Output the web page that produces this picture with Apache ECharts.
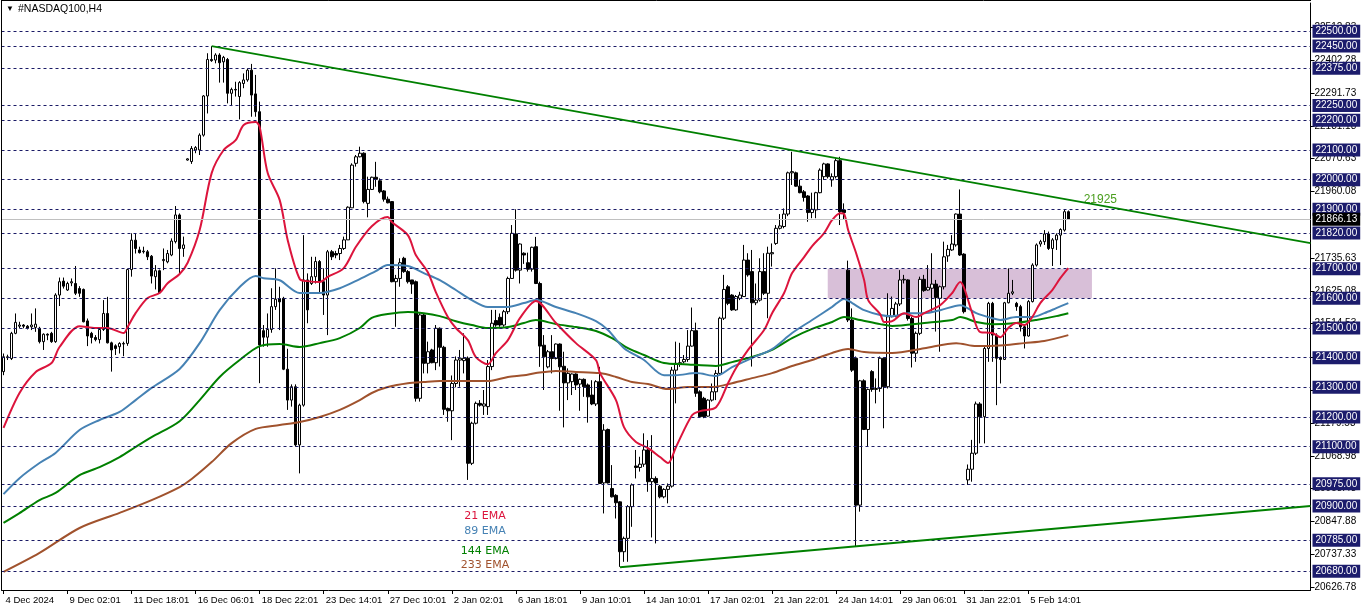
<!DOCTYPE html>
<html><head><meta charset="utf-8">
<script src="https://cdn.jsdelivr.net/npm/echarts@6/dist/echarts.min.js"></script>
<style>html,body{margin:0;padding:0;background:#fff}#c{width:1362px;height:611px}</style>
</head><body><div id="c"></div>
<script>
const dateLabels = ['4 Dec 2024','9 Dec 02:01','11 Dec 18:01','16 Dec 06:01','18 Dec 22:01','23 Dec 14:01','27 Dec 10:01','2 Jan 02:01','6 Jan 18:01','9 Jan 10:01','14 Jan 10:01','17 Jan 02:01','21 Jan 22:01','24 Jan 14:01','29 Jan 06:01','31 Jan 22:01','5 Feb 14:01'];

// [open, close, low, high]
const candles = [
[21353,21403,21341,21414],[21400,21403,21392,21410],[21397,21482,21392,21487],[21482,21519,21479,21549],[21506,21510,21499,21521],
[21510,21506,21499,21513],[21506,21499,21495,21510],[21504,21510,21493,21549],[21502,21513,21487,21566],[21499,21454,21448,21504],
[21454,21479,21426,21482],[21479,21476,21459,21482],[21482,21454,21450,21487],[21454,21611,21450,21617],[21611,21656,21574,21670],
[21658,21641,21633,21670],[21628,21650,21625,21656],[21652,21656,21641,21667],[21650,21617,21611,21709],[21633,21617,21605,21641],
[21630,21521,21519,21633],[21524,21473,21439,21532],[21482,21468,21448,21487],[21468,21461,21455,21476],[21461,21495,21448,21499],
[21495,21549,21490,21594],[21549,21450,21448,21605],[21450,21426,21353,21454],[21440,21431,21409,21445],[21437,21448,21414,21452],
[21446,21448,21405,21454],[21448,21697,21440,21700],[21697,21796,21673,21819],[21796,21768,21751,21819],[21763,21754,21751,21774],
[21757,21759,21751,21774],[21757,21740,21729,21763],[21742,21675,21650,21746],[21673,21693,21630,21712],[21693,21619,21617,21697],
[21727,21731,21695,21768],[21723,21751,21718,21763],[21746,21793,21742,21802],[21791,21881,21785,21911],[21881,21768,21679,21886],
[21768,21780,21740,21808],[22066,22070,22064,22072],[22061,22105,22053,22113],[22100,22108,22089,22113],[22100,22150,22083,22156],
[22150,22282,22145,22285],[22282,22405,22223,22426],[22405,22401,22397,22450],[22403,22420,22392,22426],[22420,22394,22327,22426],
[22397,22412,22327,22417],[22405,22291,22257,22410],[22291,22304,22248,22310],[22304,22302,22280,22330],[22280,22327,22203,22332],
[22324,22336,22308,22358],[22336,22369,22330,22375],[22369,22285,22212,22390],[22289,22229,22212,22353],[22229,21443,21314,22263],
[21491,21469,21437,21510],[21469,21495,21437,21549],[21495,21572,21484,21634],[21572,21597,21561,21701],[21599,21588,21493,21639],
[21600,21361,21358,21605],[21361,21257,21224,21430],[21257,21302,21235,21310],[21302,21106,21100,21310],[21106,21240,21010,21245],
[21240,21662,21235,21813],[21662,21561,21516,21684],[21650,21673,21645,21740],[21673,21724,21650,21740],[21724,21656,21617,21729],
[21656,21611,21544,21701],[21611,21757,21476,21763],[21757,21740,21729,21763],[21751,21746,21735,21760],[21751,21768,21729,21780],
[21768,21797,21763,21808],[21797,21907,21797,21910],[21905,22049,21905,22055],[22055,22077,22044,22083],[22077,22089,22075,22111],
[22089,21926,21920,22092],[21920,21967,21873,22010],[21967,22008,21965,22010],[22008,22001,21976,22060],[21996,21959,21954,22004],
[21962,21934,21926,21965],[21934,21922,21920,21943],[21926,21656,21654,21928],[21656,21667,21504,21679],[21667,21720,21639,21735],
[21735,21690,21686,21740],[21690,21656,21650,21695],[21662,21648,21615,21662],[21656,21263,21252,21660],[21263,21544,21252,21550],
[21544,21381,21347,21550],[21381,21420,21347,21454],[21426,21383,21381,21430],[21383,21499,21358,21510],[21499,21435,21370,21502],
[21435,21226,21207,21440],[21229,21221,21184,21232],[21221,21313,21122,21340],[21313,21392,21300,21404],[21392,21398,21302,21426],
[21390,21398,21347,21482],[21398,21044,20988,21404],[21044,21179,21038,21184],[21179,21246,21175,21252],[21246,21240,21235,21257],
[21237,21244,21207,21291],[21235,21370,21207,21392],[21370,21516,21358,21561],[21525,21510,21504,21561],[21536,21510,21504,21549],
[21510,21555,21504,21561],[21555,21667,21547,21673],[21667,21819,21667,21847],[21817,21695,21690,21900],[21695,21783,21650,21785],
[21752,21746,21716,21755],[21720,21698,21690,21754],[21698,21772,21690,21774],[21774,21650,21648,21807],[21650,21439,21369,21656],
[21442,21403,21291,21476],[21369,21420,21364,21426],[21420,21397,21347,21476],[21397,21446,21394,21448],[21446,21369,21221,21448],
[21371,21315,21165,21420],[21315,21347,21257,21364],[21319,21345,21274,21347],[21345,21308,21291,21347],[21311,21327,21221,21330],
[21327,21302,21268,21330],[21308,21268,21181,21313],[21274,21244,21240,21324],[21244,21319,21237,21324],[21319,20976,20974,21369],
[20978,21156,20875,21176],[21158,20978,20976,21161],[20959,20931,20929,21038],[20936,20911,20858,20940],[20914,20746,20695,20916],
[20746,20791,20712,20797],[20791,20898,20712,20903],[20898,20971,20830,20976],[21035,21030,20993,21089],[21030,21041,21016,21066],
[21041,21089,21032,21145],[21089,20982,20948,21122],[20982,20993,20794,21139],[20993,20978,20774,21000],[20967,20931,20926,20971],
[20931,20956,20926,20960],[20956,20967,20909,20976],[20967,21358,20962,21369],[21358,21381,21246,21454],[21378,21383,21369,21450],
[21386,21394,21381,21409],[21394,21439,21386,21493],[21439,21491,21437,21569],[21491,21280,21268,21518],[21285,21201,21199,21290],
[21263,21201,21196,21268],[21203,21257,21201,21260],[21257,21285,21252,21313],[21285,21347,21257,21358],[21347,21533,21342,21538],
[21533,21630,21527,21679],[21639,21583,21577,21645],[21611,21561,21558,21614],[21561,21606,21558,21611],[21600,21611,21594,21622],
[21606,21729,21606,21780],[21729,21679,21673,21752],[21690,21585,21370,21763],[21585,21594,21577,21650],[21594,21690,21589,21735],
[21690,21617,21611,21752],[21617,21752,21533,21774],[21750,21754,21707,21785],[21785,21836,21780,21847],[21836,21844,21832,21884],
[21842,21884,21836,21903],[21884,22023,21877,22027],[22023,22027,21982,22094],[22023,21978,21976,22027],[21978,21956,21954,21999],
[21959,21940,21926,21965],[21945,21889,21858,21948],[21889,21900,21870,21956],[21898,21956,21870,21959],[21956,22032,21954,22038],
[22010,22053,21999,22057],[22053,22010,22004,22055],[21999,22010,21976,22021],[22010,22064,22004,22072],[22064,21892,21847,22077],
[21898,21889,21864,21920],[21695,21527,21520,21727],[21527,21358,21352,21566],[21398,20903,20763,21404],[20903,21322,20881,21325],
[21322,21158,21156,21327],[21158,21293,21100,21296],[21353,21293,21285,21358],[21293,21296,21246,21330],[21296,21398,21285,21404],
[21398,21302,21162,21401],[21302,21538,21296,21617],[21538,21566,21536,21606],[21540,21581,21536,21588],[21581,21662,21574,21695],
[21662,21664,21650,21679],[21662,21532,21525,21664],[21532,21415,21367,21538],[21415,21482,21386,21488],[21482,21664,21476,21673],
[21664,21626,21622,21679],[21628,21637,21626,21712],[21634,21648,21555,21752],[21648,21603,21488,21662],[21600,21639,21420,21643],
[21639,21740,21630,21791],[21743,21765,21723,21780],[21763,21783,21760,21813],[21780,21884,21774,21886],[21884,21746,21743,21967],
[21749,21555,21549,21752],[20988,21024,20971,21040],[21024,21078,20982,21123],[21078,21244,21072,21252],[21244,21201,21111,21250],
[21201,21431,21111,21437],[21431,21583,21386,21588],[21583,21476,21386,21588],[21476,21398,21240,21482],[21401,21394,21313,21404],
[21394,21585,21392,21588],[21585,21617,21583,21701],[21617,21622,21611,21662],[21583,21572,21558,21588],[21572,21504,21488,21578],
[21504,21473,21431,21510],[21473,21589,21471,21594],[21589,21712,21586,21718],[21712,21780,21707,21785],[21783,21791,21774,21797],
[21791,21817,21780,21830],[21817,21768,21763,21825],[21768,21797,21709,21803],[21797,21813,21763,21819],[21813,21832,21712,21836],
[21830,21892,21825,21900],[21892,21866.13,21864,21896]
];

const ema21 = [[0,21163],[4,21281],[8,21351],[12,21382],[14,21436],[19,21506],[23,21500],[26,21500],[30,21483],[31,21503],[33,21550],[36,21601],[39,21618],[41,21651],[44,21682],[46,21720],[49,21830],[52,22022],[55,22100],[58,22133],[60,22184],[63,22194],[64,22177],[66,22022],[69,21931],[71,21796],[74,21665],[76,21658],[79,21655],[81,21672],[85,21702],[88,21773],[92,21843],[96,21874],[97,21857],[101,21813],[103,21746],[106,21688],[108,21621],[111,21537],[113,21500],[116,21459],[118,21402],[121,21378],[123,21415],[126,21459],[129,21533],[133,21591],[138,21517],[143,21449],[148,21392],[149,21348],[153,21257],[155,21166],[158,21116],[161,21095],[164,21065],[166,21045],[168,21099],[172,21206],[174,21220],[178,21233],[181,21314],[183,21365],[186,21426],[190,21493],[192,21550],[195,21618],[197,21685],[200,21739],[202,21776],[205,21820],[207,21864],[209,21887],[210,21884],[211,21830],[213,21752],[215,21661],[216,21594],[219,21547],[220,21520],[222,21523],[225,21550],[228,21537],[230,21550],[234,21577],[237,21618],[239,21655],[240,21634],[242,21550],[244,21486],[247,21483],[249,21469],[251,21500],[253,21517],[255,21510],[257,21537],[259,21584],[262,21628],[264,21668],[266,21702]];
const ema89 = [[0,20940],[4,20994],[9,21045],[13,21079],[19,21156],[24,21190],[29,21217],[33,21257],[37,21298],[44,21362],[49,21449],[54,21560],[59,21638],[63,21675],[65,21668],[69,21661],[74,21618],[79,21618],[84,21634],[89,21665],[93,21692],[96,21712],[101,21709],[105,21685],[109,21661],[113,21628],[117,21594],[121,21571],[126,21571],[130,21584],[133,21594],[138,21571],[143,21550],[148,21523],[151,21493],[155,21432],[160,21392],[165,21341],[168,21341],[173,21348],[178,21338],[182,21368],[187,21399],[192,21429],[197,21483],[202,21527],[207,21571],[210,21598],[212,21584],[215,21560],[219,21544],[222,21540],[226,21550],[230,21550],[234,21560],[239,21577],[243,21550],[247,21533],[249,21527],[253,21537],[257,21537],[260,21550],[263,21567],[266,21584]];
const ema144 = [[0,20843],[4,20876],[9,20920],[13,20944],[19,21004],[24,21031],[29,21065],[33,21099],[37,21132],[44,21186],[49,21257],[54,21335],[59,21392],[64,21439],[69,21446],[74,21436],[79,21449],[84,21466],[89,21500],[92,21534],[96,21547],[101,21554],[105,21550],[109,21540],[113,21523],[117,21510],[121,21500],[126,21503],[130,21517],[133,21527],[138,21513],[143,21503],[148,21490],[152,21466],[156,21432],[160,21409],[165,21382],[170,21378],[178,21372],[182,21385],[187,21402],[192,21426],[197,21466],[202,21497],[207,21520],[210,21537],[214,21527],[219,21513],[222,21507],[230,21517],[237,21527],[239,21537],[243,21520],[247,21513],[253,21517],[258,21527],[263,21540],[266,21550]];
const ema233 = [[0,20678],[9,20742],[19,20826],[29,20877],[37,20920],[44,20964],[47,20991],[52,21048],[57,21112],[63,21160],[69,21173],[74,21183],[79,21200],[84,21224],[89,21257],[92,21281],[96,21301],[101,21314],[105,21318],[109,21321],[121,21321],[126,21335],[130,21341],[133,21348],[138,21355],[143,21352],[149,21348],[153,21335],[157,21318],[161,21311],[166,21294],[171,21301],[177,21301],[182,21314],[187,21331],[192,21348],[197,21372],[202,21392],[207,21416],[211,21429],[215,21419],[222,21416],[230,21432],[238,21449],[243,21439],[250,21442],[255,21449],[260,21456],[266,21476]];

const levelLines = [22500,22450,22375,22250,22200,22100,22000,21900,21820,21700,21600,21500,21400,21300,21200,21100,20975,20900,20785,20680];
const priceTicks = [20626.78,20737.33,20847.88,20958.43,21068.98,21179.53,21290.08,21403.08,21514.53,21625.08,21735.63,21960.08,22070.63,22181.18,22291.73,22402.28,22512.83];
const lastPrice = 21866.13;
const upperTrend = [[52,22450],[326.5,21786]];
const lowerTrend = [[154,20694],[326.5,20900]];
const zoneX = [205.9, 271.9];
const zoneY = [21600, 21700];
const trendLabel = {x: 274, y: 21934, text: '21925'};
const emaNames = ['21 EMA','89 EMA','144 EMA','233 EMA'];

const N = 327;
const cats = Array.from({length: N}, (_, i) => String(i));
const FONT = 'Liberation Sans, Arial, sans-serif';
const showIdx = (i) => i % 16 === 0 && i / 16 < dateLabels.length;

const chart = echarts.init(document.getElementById('c'), null, {renderer: 'canvas'});
const lvlData = levelLines.map(v => ({yAxis: v, lineStyle: {color: '#1a1a66', type: [3, 3], width: 1},
  label: {show: true, position: 'end', distance: 2, formatter: v.toFixed(2), color: '#fff', backgroundColor: '#1c1c6c', padding: [2, 3, 1, 3], fontSize: 10, fontFamily: FONT}}));
lvlData.push({yAxis: lastPrice, lineStyle: {color: '#c0c0c0', type: 'solid', width: 1},
  label: {show: true, position: 'end', distance: 2, formatter: lastPrice.toFixed(2), color: '#fff', backgroundColor: '#000', padding: [2, 3, 1, 3], fontSize: 10, fontFamily: FONT}});

const emaLine = (data, color) => ({type: 'line', xAxisIndex: 1, yAxisIndex: 0, data, showSymbol: false, symbol: 'none', smooth: 0.3,
  lineStyle: {color, width: 2}, z: 4, silent: true, animation: false});

chart.setOption({
  animation: false,
  grid: {left: 1.5, right: 51.5, top: 3, bottom: 21, containLabel: false},
  xAxis: [
    {type: 'category', data: cats, boundaryGap: true,
     axisLine: {show: true, onZero: false, lineStyle: {color: '#000', width: 1}},
     axisTick: {show: true, alignWithLabel: true, interval: showIdx, length: 4, lineStyle: {color: '#000'}},
     axisLabel: {interval: showIdx, formatter: (v, i) => dateLabels[Math.round(Number(v) / 16)] || '', align: 'left', margin: 5, color: '#000', fontSize: 9.5, fontFamily: FONT, padding: [0, 0, 0, 2]},
     splitLine: {show: false}},
    {type: 'value', min: -0.5, max: N - 0.5, show: false, axisLine: {onZero: false}, axisTick: {show: false}, axisLabel: {show: false}, splitLine: {show: false}}
  ],
  yAxis: [{type: 'value', position: 'right', min: 20617, max: 22595.3, scale: true,
    splitLine: {show: false},
    axisLine: {show: true, onZero: false, lineStyle: {color: '#000', width: 1}},
    axisTick: {show: true, customValues: priceTicks, length: 4, lineStyle: {color: '#000'}},
    axisLabel: {show: true, customValues: priceTicks, formatter: v => Number(v).toFixed(2), color: '#000', fontSize: 10, fontFamily: FONT, margin: 4}
  }],
  series: [
    {type: 'line', xAxisIndex: 1, yAxisIndex: 0, data: [], z: 1, silent: true,
     markArea: {silent: true, itemStyle: {color: '#d8bfd8'}, data: [[{coord: [zoneX[0], zoneY[1]]}, {coord: [zoneX[1], zoneY[0]]}]]},
     markLine: {silent: true, symbol: ['none', 'none'], animation: false, data: lvlData}},
    {type: 'candlestick', xAxisIndex: 0, yAxisIndex: 0, data: candles, barWidth: 3, z: 3, silent: true,
     itemStyle: {color: '#fff', color0: '#000', borderColor: '#000', borderColor0: '#000', borderWidth: 1}},
    emaLine(ema233, '#a0522d'),
    emaLine(ema144, '#008000'),
    emaLine(ema89, '#4682b4'),
    emaLine(ema21, '#dc143c'),
    {type: 'line', xAxisIndex: 1, yAxisIndex: 0, data: upperTrend, symbol: 'none', lineStyle: {color: '#008000', width: 2}, z: 5, silent: true,
     markPoint: {silent: true, symbol: 'rect', symbolSize: 0, data: [{coord: [trendLabel.x, trendLabel.y],
       label: {show: true, formatter: trendLabel.text, position: 'inside', color: '#4a9e1e', fontSize: 12, fontFamily: FONT}}]}},
    {type: 'line', xAxisIndex: 1, yAxisIndex: 0, data: lowerTrend, symbol: 'none', lineStyle: {color: '#008000', width: 2}, z: 5, silent: true}
  ],
  graphic: [
    {type: 'line', shape: {x1: 1.5, y1: 0.5, x2: 1311, y2: 0.5}, style: {stroke: '#000', lineWidth: 1}, z: 10},
    {type: 'line', shape: {x1: 1.5, y1: 0, x2: 1.5, y2: 590}, style: {stroke: '#000', lineWidth: 1}, z: 10},
    {type: 'text', left: 6, top: 5, style: {text: '\u25BC', fontSize: 8, fill: '#000', fontFamily: FONT}, z: 10},
    {type: 'text', left: 18, top: 4, style: {text: '#NASDAQ100,H4', fontSize: 10.5, fill: '#000', fontFamily: FONT}, z: 10},
    {type: 'text', x: 485, y: 516, style: {text: emaNames[0], fontSize: 11, fill: '#dc143c', fontFamily: 'DejaVu Sans', align: 'center', verticalAlign: 'middle'}, z: 10},
    {type: 'text', x: 485, y: 531, style: {text: emaNames[1], fontSize: 11, fill: '#4682b4', fontFamily: 'DejaVu Sans', align: 'center', verticalAlign: 'middle'}, z: 10},
    {type: 'text', x: 485, y: 551, style: {text: emaNames[2], fontSize: 11, fill: '#008000', fontFamily: 'DejaVu Sans', align: 'center', verticalAlign: 'middle'}, z: 10},
    {type: 'text', x: 485, y: 565, style: {text: emaNames[3], fontSize: 11, fill: '#a0522d', fontFamily: 'DejaVu Sans', align: 'center', verticalAlign: 'middle'}, z: 10}
  ]
});
</script>
</body></html>
